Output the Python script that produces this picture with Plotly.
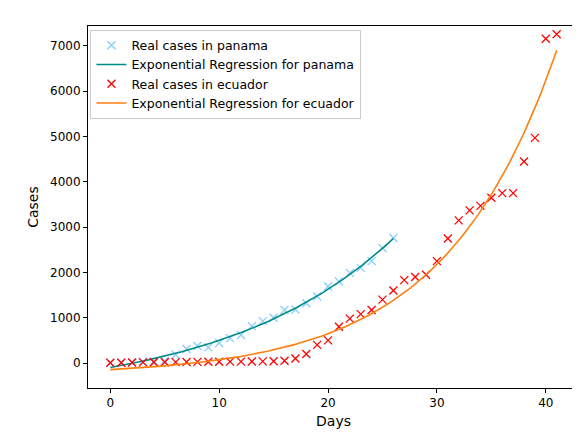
import numpy as np
import plotly.graph_objects as go

panama_days = list(range(27))
panama_cases = [1, 8, 11, 27, 36, 43, 183, 309, 375, 345, 440, 550, 620, 815, 925, 1000, 1170, 1180, 1320, 1470, 1690, 1800, 1990, 2100, 2250, 2540, 2760]
ecuador_days = list(range(42))
ecuador_cases = [6, 7, 10, 13, 15, 17, 20, 22, 25, 27, 28, 30, 30, 32, 35, 40, 50, 100, 200, 400, 500, 800, 980, 1080, 1170, 1400, 1600, 1830, 1900, 1950, 2250, 2750, 3150, 3370, 3470, 3650, 3750, 3750, 4450, 4970, 7160, 7260]

def exp_fit(x, y):
    x = np.asarray(x, float); y = np.asarray(y, float)
    best = None
    for b in np.linspace(0.01, 0.3, 600):
        A = np.column_stack([np.exp(b * x), np.ones_like(x)])
        coef, res, *_ = np.linalg.lstsq(A, y, rcond=None)
        err = np.sum((A @ coef - y) ** 2)
        if best is None or err < best[0]:
            best = (err, b, coef)
    _, b, coef = best
    xs = np.linspace(x.min(), x.max(), 200)
    return xs, coef[0] * np.exp(b * xs) + coef[1]

px, py = exp_fit(panama_days, panama_cases)
ex, ey = exp_fit(ecuador_days, ecuador_cases)

fig = go.Figure()
fig.add_trace(go.Scatter(x=panama_days, y=panama_cases, mode="markers", name="Real cases in panama",
                         marker=dict(symbol="x-thin", size=8, line=dict(width=1.3, color="lightskyblue"), color="lightskyblue")))
fig.add_trace(go.Scatter(x=px, y=py, mode="lines", name="Exponential Regression for panama",
                         line=dict(color="#008b8b", width=1.6)))
fig.add_trace(go.Scatter(x=ecuador_days, y=ecuador_cases, mode="markers", name="Real cases in ecuador",
                         marker=dict(symbol="x-thin", size=8, line=dict(width=1.3, color="red"), color="red")))
fig.add_trace(go.Scatter(x=ex, y=ey, mode="lines", name="Exponential Regression for ecuador",
                         line=dict(color="#ff7f0e", width=1.6)))

ax = dict(showgrid=False, zeroline=False, showline=True, mirror=True, linecolor="black", linewidth=1,
          ticks="outside", ticklen=4, tickcolor="black", tickfont=dict(size=12, color="black"),
          automargin=False)
fig.update_layout(
    width=580, height=432, template="none", paper_bgcolor="white", plot_bgcolor="white",
    margin=dict(l=80, r=9, t=18, b=52),
    font=dict(family="DejaVu Sans", size=12, color="black"),
    xaxis=dict(**ax, range=[-2.05, 43.05], tickvals=[0, 10, 20, 30, 40],
               title=dict(text="Days", standoff=6)),
    yaxis=dict(**ax, range=[-552, 7441], tickvals=list(range(0, 7001, 1000)),
               title=dict(text="Cases", standoff=8)),
    legend=dict(x=0.005, y=0.99, xanchor="left", yanchor="top", bgcolor="rgba(255,255,255,0.8)",
                bordercolor="#cccccc", borderwidth=1, font=dict(size=12.5)),
)
fig.write_html("out.html")
